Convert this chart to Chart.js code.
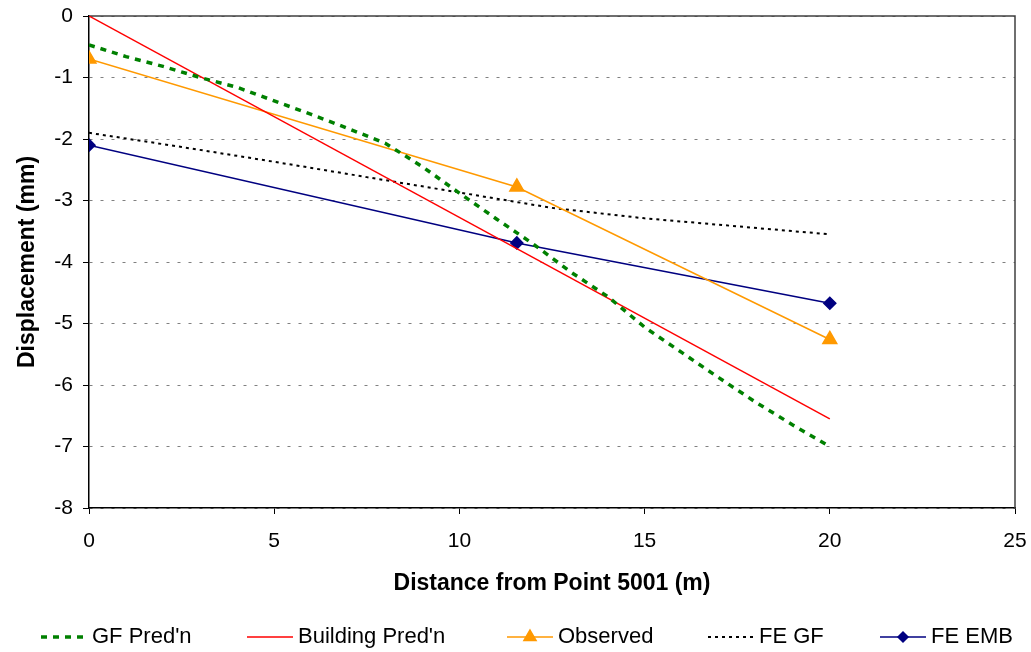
<!DOCTYPE html>
<html>
<head>
<meta charset="utf-8">
<script src="https://cdn.jsdelivr.net/npm/chart.js@4.4.0/dist/chart.umd.min.js"></script>
<style>
  html, body { margin: 0; padding: 0; background: #fff; }
</style>
</head>
<body>
<canvas id="dispChart" width="1031" height="652"></canvas>
<script>
// values
const seriesNames = ["GF Pred'n", "Building Pred'n", 'Observed', 'FE GF', 'FE EMB'];

const gfPredX = [0, 1, 2, 3, 4, 5, 6, 7, 8, 9, 10, 11, 12, 13, 14, 15, 16, 17, 18, 19, 20];
const gfPredY = [-0.47, -0.66, -0.82, -1.0, -1.16, -1.38, -1.6, -1.83, -2.07, -2.45, -2.88,
                 -3.3, -3.71, -4.16, -4.56, -5.06, -5.47, -5.88, -6.28, -6.65, -7.0];

const bldPredX = [0, 20];
const bldPredY = [0, -6.55];

const obsX = [0, 11.55, 20];
const obsY = [-0.7, -2.78, -5.26];

const feGfX = [0, 2.5, 5, 7.5, 10, 12.5, 15, 17.5, 20];
const feGfY = [-1.9, -2.13, -2.37, -2.62, -2.87, -3.12, -3.29, -3.42, -3.55];

const feEmbX = [0, 11.55, 20];
const feEmbY = [-2.1, -3.69, -4.67];

const xTicks = [0, 5, 10, 15, 20, 25];
const yTicks = [0, -1, -2, -3, -4, -5, -6, -7, -8];

const FONT = "'Liberation Sans', Arial, sans-serif";

function toPts(xs, ys) {
    return xs.map((x, i) => ({ x: x, y: ys[i] }));
}

// top + right edge of the plot area
const plotFrame = {
    id: 'plotFrame',
    beforeDatasetsDraw(chart) {
        const { ctx, chartArea: a } = chart;
        ctx.save();
        ctx.strokeStyle = '#404040';
        ctx.lineWidth = 1.5;
        ctx.beginPath();
        ctx.moveTo(a.left, a.top);
        ctx.lineTo(a.right, a.top);
        ctx.lineTo(a.right, a.bottom);
        ctx.stroke();
        ctx.restore();
    }
};

// legend along the bottom, line sample + marker + label
const legendXs = [41, 247, 507, 708, 880];
const bottomLegend = {
    id: 'bottomLegend',
    afterDraw(chart) {
        const ctx = chart.ctx;
        const y = 637;
        const sampleW = 46;
        chart.data.datasets.forEach((ds, i) => {
            const x = legendXs[i];
            ctx.save();
            ctx.strokeStyle = ds.borderColor;
            ctx.lineWidth = ds.borderWidth;
            ctx.setLineDash(ds.borderDash || []);
            ctx.beginPath();
            ctx.moveTo(x, y);
            ctx.lineTo(x + sampleW, y);
            ctx.stroke();
            ctx.setLineDash([]);
            if (ds.pointRadius > 0) {
                ctx.fillStyle = ds.pointBackgroundColor;
                ctx.strokeStyle = ds.pointBorderColor;
                Chart.helpers.drawPoint(ctx, {
                    pointStyle: ds.pointStyle,
                    radius: ds.pointRadius - 1,
                    rotation: 0,
                    borderWidth: 1
                }, x + sampleW / 2, y);
            }
            ctx.fillStyle = '#000';
            ctx.font = '22px ' + FONT;
            ctx.textBaseline = 'middle';
            ctx.textAlign = 'left';
            ctx.fillText(ds.label, x + sampleW + 5, y);
            ctx.restore();
        });
    }
};

const ctx = document.getElementById('dispChart').getContext('2d');
const chart = new Chart(ctx, {
    type: 'scatter',
    data: {
        datasets: [{
            label: seriesNames[0],
            data: toPts(gfPredX, gfPredY),
            showLine: true,
            borderColor: '#008000',
            borderWidth: 3.5,
            borderDash: [6, 6],
            pointRadius: 0
        }, {
            label: seriesNames[1],
            data: toPts(bldPredX, bldPredY),
            showLine: true,
            borderColor: '#FF0000',
            borderWidth: 1.5,
            pointRadius: 0
        }, {
            label: seriesNames[2],
            data: toPts(obsX, obsY),
            showLine: true,
            borderColor: '#FF9900',
            borderWidth: 1.5,
            pointStyle: 'triangle',
            pointRadius: 8,
            pointBackgroundColor: '#FF9900',
            pointBorderColor: '#FF9900'
        }, {
            label: seriesNames[3],
            data: toPts(feGfX, feGfY),
            showLine: true,
            borderColor: '#000000',
            borderWidth: 2,
            borderDash: [3, 4],
            pointRadius: 0
        }, {
            label: seriesNames[4],
            data: toPts(feEmbX, feEmbY),
            showLine: true,
            borderColor: '#000080',
            borderWidth: 1.5,
            pointStyle: 'rectRot',
            pointRadius: 6,
            pointBackgroundColor: '#000080',
            pointBorderColor: '#000080'
        }]
    },
    options: {
        responsive: false,
        animation: false,
        devicePixelRatio: 1,
        layout: { padding: { top: 16, right: 16, bottom: 0, left: 0 } },
        elements: { line: { tension: 0 } },
        plugins: {
            legend: { display: false },
            tooltip: { enabled: false }
        },
        scales: {
            x: {
                type: 'linear',
                min: 0,
                max: 25,
                afterBuildTicks: s => { s.ticks = xTicks.map(v => ({ value: v })); },
                afterFit: s => { s.height = 144; s.paddingLeft = 0; s.paddingRight = 0; },
                grid: { drawOnChartArea: false, drawTicks: true, tickLength: 6, tickColor: '#000', color: '#000' },
                border: { display: true, color: '#000', width: 1.5 },
                ticks: { color: '#000', font: { family: FONT, size: 21 }, padding: 15, maxRotation: 0 },
                title: {
                    display: true,
                    text: 'Distance from Point 5001 (m)',
                    color: '#000',
                    font: { family: FONT, size: 23, weight: 'bold' },
                    padding: { top: 0, bottom: 55 }
                }
            },
            y: {
                type: 'linear',
                min: -8,
                max: 0,
                afterBuildTicks: s => { s.ticks = yTicks.map(v => ({ value: v })); },
                afterFit: s => { s.width = 89; s.paddingTop = 0; s.paddingBottom = 0; },
                grid: { color: '#808080', lineWidth: 1, drawTicks: true, tickLength: 6, tickColor: '#000' },
                border: { display: true, color: '#000', width: 1.5, dash: [3, 8] },
                ticks: { color: '#000', font: { family: FONT, size: 21 }, padding: 10, callback: v => String(v) },
                title: {
                    display: true,
                    text: 'Displacement (mm)',
                    color: '#000',
                    font: { family: FONT, size: 23, weight: 'bold' },
                    padding: { top: 14, bottom: 0 }
                }
            }
        }
    },
    plugins: [plotFrame, bottomLegend]
});
</script>
</body>
</html>
